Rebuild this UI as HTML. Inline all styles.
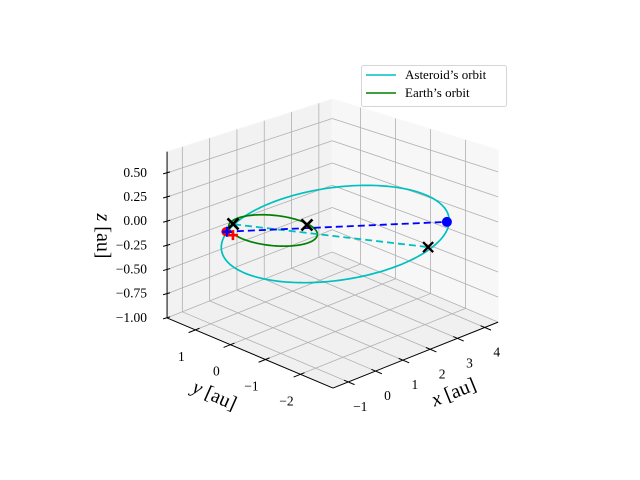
<!DOCTYPE html>
<html><head><meta charset="utf-8">
<style>
html,body{margin:0;padding:0;background:#fff;}
svg{display:block;font-family:"Liberation Serif",serif;}
</style></head>
<body>
<svg id="chart" width="640" height="480" viewBox="0 0 640 480" xmlns="http://www.w3.org/2000/svg">
<rect width="640" height="480" fill="#fff"/>
<g id="panes"></g>
<g id="grid"></g>
<g id="axes"></g>
<g id="series"></g>
<text transform="translate(456,398) rotate(-22)" text-anchor="middle" font-size="20"><tspan font-style="italic">x</tspan> [au]</text>
<text transform="translate(212,401) rotate(24)" text-anchor="middle" font-size="20"><tspan font-style="italic">y</tspan> [au]</text>
<text transform="translate(97,236) rotate(90)" text-anchor="middle" font-size="20"><tspan font-style="italic">z</tspan> [au]</text>
<g>
<rect x="361.5" y="65.5" width="145" height="41" rx="2" fill="#fff" fill-opacity="0.85" stroke="#d5d5d5"/>
<line x1="366" y1="75" x2="396" y2="75" stroke="#00bfbf" stroke-width="1.6"/>
<text x="405" y="79" font-size="13">Asteroid’s orbit</text>
<line x1="366" y1="93" x2="396" y2="93" stroke="#008000" stroke-width="1.6"/>
<text x="405" y="97" font-size="13">Earth’s orbit</text>
</g>
</svg>
<script>
// ---- data ----
const xLim = [-1.56, 4.49];
const yLim = [-2.93, 1.81];
const zLim = [-1.0, 0.72];
const xTicks = [-1, 0, 1, 2, 3, 4];
const yTicks = [-2, -1, 0, 1];
const zTicks = [-1.0, -0.75, -0.5, -0.25, 0.0, 0.25, 0.5];
const zTickLabels = ["\u22121.00", "\u22120.75", "\u22120.50", "\u22120.25", "0.00", "0.25", "0.50"];
const xTickLabels = ["\u22121", "0", "1", "2", "3", "4"];
const yTickLabels = ["\u22122", "\u22121", "0", "1"];
const earthOrbitCenter = [-0.09, -0.07, 0];
const earthOrbitRadius = 1.0;
const asteroidCenter = [0.87, -1.10, 0];
const asteroidAxisA = [2.79, -1.08, 0];
const asteroidAxisB = [-2.42, -1.89, 0];
const earthMarkers = [[-0.49, 0.76, 0], [0.82, -0.33, 0]];
const asteroidMarker = [1.90, -2.95, 0];
const asteroidNow = [3.55, -2.20, 0];
const earthStart = [-1.02, 0.55, 0];
const bluePlus = [-1.00, 0.53, 0];
const redPlus = [-1.07, 0.31, 0];
const cyanDashStart = [-0.49, 0.73, 0];

// ---- projection ----
const O = [273, 231], UX = [27.3, -10.9], UY = [-35, -14.8], UZ = 96.7;
function proj(x, y, z) {
  const xn = (x - xLim[0]) / (xLim[1] - xLim[0]);
  const yn = (y - yLim[0]) / (yLim[1] - yLim[0]);
  const f = 1.116 - 0.08 * xn - 0.116 * yn;
  const sx = O[0] + x * UX[0] + y * UY[0];
  const floorY = O[1] + x * UX[1] + y * UY[1] + UZ;
  const sy = floorY - (z - zLim[0]) * UZ * f;
  return [sx, sy];
}
const NS = "http://www.w3.org/2000/svg";
function mk(tag, attrs, parent) {
  const e = document.createElementNS(NS, tag);
  for (const k in attrs) e.setAttribute(k, attrs[k]);
  parent.appendChild(e);
  return e;
}
function pts(arr) { return arr.map(p => { const s = proj(p[0], p[1], p[2]); return s[0].toFixed(2) + "," + s[1].toFixed(2); }).join(" "); }

const panes = document.getElementById("panes");
const grid = document.getElementById("grid");
const axes = document.getElementById("axes");
const series = document.getElementById("series");
const [x0, x1] = xLim, [y0, y1] = yLim, [z0, z1] = zLim;

let p;
p = mk("polygon", {points: pts([[x0,y0,z0],[x1,y0,z0],[x1,y1,z0],[x0,y1,z0]]), fill: "#f0f0f0", stroke: "#f8f8f8"}, panes);


p = mk("polygon", {points: pts([[x0,y1,z0],[x1,y1,z0],[x1,y1,z1],[x0,y1,z1]]), fill: "#f2f2f2", stroke: "#f8f8f8"}, panes);


p = mk("polygon", {points: pts([[x1,y0,z0],[x1,y1,z0],[x1,y1,z1],[x1,y0,z1]]), fill: "#f7f7f7", stroke: "#f8f8f8"}, panes);



const gs = {stroke: "#b0b0b0", "stroke-width": 0.8, fill: "none"};
function gline(a, b, name) {
  const l = mk("polyline", Object.assign({points: pts([a, b])}, gs), grid);
  
  
}
xTicks.forEach(t => { gline([t,y1,z0],[t,y1,z1], 'x-grid-wall'); gline([t,y0,z0],[t,y1,z0], 'x-grid-floor'); });
yTicks.forEach(t => { gline([x1,t,z0],[x1,t,z1], 'y-grid-wall'); gline([x0,t,z0],[x1,t,z0], 'y-grid-floor'); });
zTicks.forEach(t => { gline([x0,y1,t],[x1,y1,t], 'z-grid-left'); gline([x1,y1,t],[x1,y0,t], 'z-grid-right'); });

function aline(a, b, name) {
  const l = mk("polyline", {points: pts([a, b]), stroke: "#000", "stroke-width": 1, fill: "none"}, axes);
  
  
}
aline([x0,y0,z0],[x1,y0,z0], 'x-axis-line');
aline([x0,y0,z0],[x0,y1,z0], 'y-axis-line');
aline([x0,y1,z0],[x0,y1,z1], 'z-axis-line');

function label(x, y, txt, anchor, name) {
  const t = mk("text", {x: x, y: y, "font-size": 13.5, "text-anchor": anchor}, axes);
  t.textContent = txt;
  
  
}
xTicks.forEach((t, i) => {
  const a = proj(t, y0 + 0.12, z0), b = proj(t, y0 - 0.18, z0);
  const l = mk("line", {x1: a[0], y1: a[1], x2: b[0], y2: b[1], stroke: "#000", "stroke-width": 1}, axes);
  
  
  const c = proj(t, y0, z0);
  label(c[0] + 12, c[1] + 29, xTickLabels[i], "middle", 'x-tick-label');
});
yTicks.forEach((t, i) => {
  const a = proj(x0 + 0.15, t, z0), b = proj(x0 - 0.25, t, z0);
  const l = mk("line", {x1: a[0], y1: a[1], x2: b[0], y2: b[1], stroke: "#000", "stroke-width": 1}, axes);
  
  
  const c = proj(x0, t, z0);
  label(c[0] - 14, c[1] + 31, yTickLabels[i], "middle", 'y-tick-label');
});
zTicks.forEach((t, i) => {
  const c = proj(x0, y1, t);
  const l = mk("line", {x1: c[0] - 4, y1: c[1] + 1, x2: c[0] + 3, y2: c[1] - 1, stroke: "#000", "stroke-width": 1}, axes);
  
  
  label(147, c[1] + 4, zTickLabels[i], "end", 'z-tick-label');
});

function ellipse(c, a, b) {
  const arr = [];
  for (let i = 0; i <= 200; i++) {
    const th = 2 * Math.PI * i / 200;
    arr.push([c[0] + a[0]*Math.cos(th) + b[0]*Math.sin(th), c[1] + a[1]*Math.cos(th) + b[1]*Math.sin(th), c[2] + a[2]*Math.cos(th) + b[2]*Math.sin(th)]);
  }
  return arr;
}
let s;
s = mk("polyline", {points: pts(ellipse(asteroidCenter, asteroidAxisA, asteroidAxisB)), fill: "none", stroke: "#00bfbf", "stroke-width": 1.7}, series);


s = mk("polyline", {points: pts(ellipse(earthOrbitCenter, [earthOrbitRadius,0,0], [0,earthOrbitRadius,0])), fill: "none", stroke: "#008000", "stroke-width": 1.7}, series);


s = mk("polyline", {points: pts([cyanDashStart, asteroidMarker]), fill: "none", stroke: "#00bfbf", "stroke-width": 1.8, "stroke-dasharray": "7,4"}, series);


s = mk("polyline", {points: pts([earthStart, asteroidNow]), fill: "none", stroke: "#0000ff", "stroke-width": 1.8, "stroke-dasharray": "7,4"}, series);



function xMark(pt, color, size, w, name) {
  const c = proj(pt[0], pt[1], pt[2]);
  const d = `M${c[0]-size},${c[1]-size}L${c[0]+size},${c[1]+size}M${c[0]-size},${c[1]+size}L${c[0]+size},${c[1]-size}`;
  const e = mk("path", {d: d, stroke: color, "stroke-width": w, fill: "none"}, series);
  
  
}
function plusMark(pt, color, size, w, name) {
  const c = proj(pt[0], pt[1], pt[2]);
  const d = `M${c[0]-size},${c[1]}L${c[0]+size},${c[1]}M${c[0]},${c[1]-size}L${c[0]},${c[1]+size}`;
  const e = mk("path", {d: d, stroke: color, "stroke-width": w, fill: "none"}, series);
  
  
}
function dot(pt, color, r, name) {
  const c = proj(pt[0], pt[1], pt[2]);
  const e = mk("circle", {cx: c[0], cy: c[1], r: r, fill: color}, series);
  
  
}
xMark(asteroidMarker, "#ff0000", 5, 2.2, 'asteroid-red-x-marker');
xMark(asteroidMarker, "#000", 5, 2.2, 'asteroid-x-marker');
earthMarkers.forEach(m => xMark(m, "#000", 5.5, 2.6, 'earth-x-marker'));
dot(asteroidNow, "#0000ff", 5, 'asteroid-position-dot');
dot(earthStart, "#ff0000", 4.5, 'earth-position-dot');
plusMark(bluePlus, "#0000ff", 5, 2.6, 'blue-plus-marker');
plusMark(redPlus, "#ff0000", 5, 2.6, 'red-plus-marker');
</script>
</body></html>
